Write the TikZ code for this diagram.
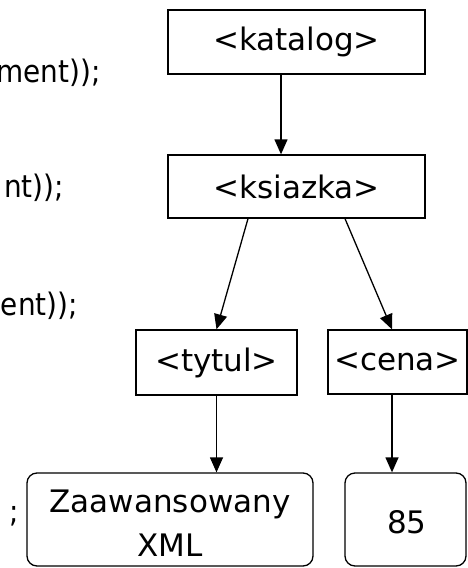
\documentclass[tikz,border=0pt]{standalone}
\usepackage{fontspec}
\setmainfont{DejaVu Sans}
\newfontfamily\codefont{DejaVu Sans}[FakeStretch=0.9]
\usetikzlibrary{arrows.meta}
\begin{document}
\begin{tikzpicture}[x=1pt,y=-1pt,
  font=\fontsize{31}{44}\selectfont,
  elbox/.style={draw,line width=1.3pt,inner sep=0pt,minimum width=#1},
  valbox/.style={draw,line width=1.3pt,rounded corners=10pt,inner sep=0pt,minimum width=#1,minimum height=93pt},
  arr/.style={line width=1.3pt,-{Triangle[length=15pt,width=13pt]}},
  code/.style={anchor=base east,inner sep=0pt,font=\codefont\fontsize{31}{44}\selectfont}]
\clip (0,0) rectangle (468,568);
\node[elbox=257pt,minimum height=64pt] (kat) at (296.5,42) {<katalog>};
\node[elbox=257pt,minimum height=63pt] (ksi) at (296.5,186.5) {<ksiazka>};
\node[elbox=161pt,minimum height=65pt] (tyt) at (216.5,362.5) {<tytul>};
\node[elbox=139pt,minimum height=64pt] (cena) at (397.5,362) {<cena>};
\node[valbox=286pt] (zaaw) at (170,519.5) {};
\node[align=center,inner sep=0pt] (zaawt) at (170,523) {Zaawansowany\\XML};
\node[valbox=121pt] (v85) at (405.5,519.5) {};
\node[inner sep=0pt] (v85t) at (407,522) {85};
\draw[arr] ([xshift=-15.5pt]kat.south) -- ([xshift=-15.5pt]ksi.north);
\draw[arr] ([xshift=-48.5pt]ksi.south) -- (tyt.north);
\draw[arr] ([xshift=48.5pt]ksi.south) -- ([xshift=-5.5pt]cena.north);
\draw[arr] (tyt.south) -- ([xshift=46.5pt]zaaw.north);
\draw[arr] ([xshift=-5.5pt]cena.south) -- ([xshift=-13.5pt]v85.north);
\node[code] (c1) at (101,82) {ment));};
\node[code] (c2) at (64,197) {nt));};
\node[code] (c3) at (78,315) {ent));};
\node[code] (c4) at (19,522) {;};
\end{tikzpicture}
\end{document}
